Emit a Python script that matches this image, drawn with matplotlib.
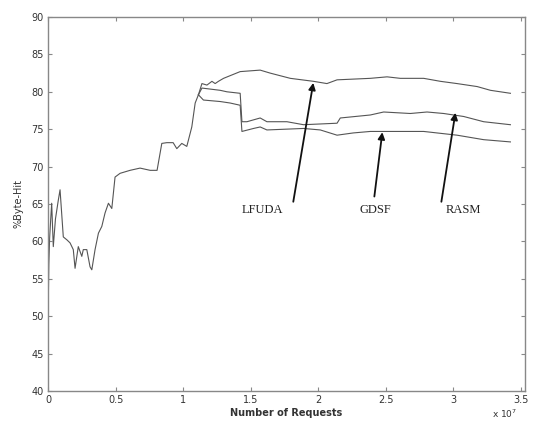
import matplotlib
matplotlib.use("Agg")
import matplotlib.pyplot as plt

# x in units of 1e7 requests, y = %Byte-Hit
common_x = [0.0, 0.002, 0.006, 0.012, 0.02, 0.027, 0.039, 0.055, 0.076, 0.089, 0.113, 0.14, 0.163, 0.187,
            0.2, 0.224, 0.25, 0.261, 0.287, 0.311, 0.324, 0.348, 0.373, 0.398, 0.422, 0.447,
            0.472, 0.496, 0.533, 0.607, 0.681, 0.756, 0.807, 0.842, 0.879, 0.926, 0.953,
            0.99, 1.027, 1.064, 1.089, 1.113]
common_y = [46.0, 52.0, 57.0, 60.5, 63.0, 65.1, 59.3, 63.0, 65.5, 66.9, 60.6, 60.2, 59.8, 58.9,
            56.4, 59.3, 58.0, 58.9, 58.9, 56.6, 56.2, 58.9, 61.1, 62.0, 63.8, 65.1,
            64.4, 68.6, 69.1, 69.5, 69.8, 69.5, 69.5, 73.1, 73.2, 73.2, 72.4,
            73.1, 72.7, 75.3, 78.5, 79.6]

lfuda_x = [1.139, 1.176, 1.213, 1.237, 1.261, 1.299, 1.422, 1.570, 1.644, 1.793, 1.965, 2.064,
           2.139, 2.385, 2.509, 2.607, 2.780, 2.904, 3.027, 3.176, 3.274, 3.422]
lfuda_y = [81.1, 80.9, 81.4, 81.1, 81.4, 81.8, 82.7, 82.9, 82.5, 81.8, 81.4, 81.1,
           81.6, 81.8, 82.0, 81.8, 81.8, 81.4, 81.1, 80.7, 80.2, 79.8]

rasm_x = [1.139, 1.274, 1.324, 1.422, 1.435, 1.472, 1.570, 1.620, 1.768, 1.891, 2.139, 2.163,
          2.385, 2.484, 2.681, 2.805, 2.928, 3.076, 3.224, 3.422]
rasm_y = [80.5, 80.2, 80.0, 79.8, 76.0, 76.0, 76.5, 76.0, 76.0, 75.6, 75.8, 76.5,
          76.9, 77.3, 77.1, 77.3, 77.1, 76.7, 76.0, 75.6]

gdsf_x = [1.150, 1.274, 1.348, 1.422, 1.435, 1.521, 1.570, 1.620, 1.891, 2.015, 2.139, 2.259,
          2.385, 2.780, 3.027, 3.224, 3.422]
gdsf_y = [78.9, 78.7, 78.5, 78.2, 74.7, 75.1, 75.3, 74.9, 75.1, 74.9, 74.2, 74.5,
          74.7, 74.7, 74.2, 73.6, 73.3]

x_ticks = [0, 0.5, 1, 1.5, 2, 2.5, 3, 3.5]
x_tick_labels = ["0", "0.5", "1", "1.5", "2", "2.5", "3", "3.5"]
y_ticks = [40, 45, 50, 55, 60, 65, 70, 75, 80, 85, 90]

fig = plt.figure(figsize=(5.36, 4.21), dpi=100)
ax = fig.add_axes([0.0896, 0.0713, 0.8899, 0.8883])

lc = "#555555"
lw = 0.8
ax.plot(common_x, common_y, color=lc, lw=lw)
ax.plot([common_x[-1]] + lfuda_x, [common_y[-1]] + lfuda_y, color=lc, lw=lw)
ax.plot([common_x[-1]] + rasm_x, [common_y[-1]] + rasm_y, color=lc, lw=lw)
ax.plot([common_x[-1]] + gdsf_x, [common_y[-1]] + gdsf_y, color=lc, lw=lw)

ax.set_xlim(0, 3.53)
ax.set_ylim(40, 90)
ax.set_xticks(x_ticks)
ax.set_xticklabels(x_tick_labels)
ax.set_yticks(y_ticks)
ax.tick_params(direction="in", top=True, right=True, labelsize=7, length=3,
               color="#888888", labelcolor="#333333", pad=3)
for s in ax.spines.values():
    s.set_color("#888888")
    s.set_linewidth(1.0)

ax.set_xlabel("Number of Requests", fontsize=7, fontweight="bold", color="#333333", labelpad=2)
ax.set_ylabel("%Byte-Hit", fontsize=7, color="#333333", labelpad=6)
ax.text(0.958, -0.06, "x 10$^7$", transform=ax.transAxes, ha="center", va="center",
        fontsize=6.5, color="#333333")

labels = [("LFUDA", 1.585, 64.2, 1.815, 65.3, 1.963, 81.2),
          ("GDSF", 2.422, 64.2, 2.415, 66.0, 2.474, 74.6),
          ("RASM", 3.074, 64.2, 2.911, 65.3, 3.015, 77.2)]
for name, tx, ty, ax0, ay0, ax1, ay1 in labels:
    ax.text(tx, ty, name, ha="center", va="center", fontsize=9,
            family="Liberation Serif", color="#222222")
    ax.annotate("", xy=(ax1, ay1), xytext=(ax0, ay0),
                arrowprops=dict(arrowstyle="-|>", color="#111111", lw=1.3,
                                mutation_scale=10, shrinkA=0, shrinkB=0))

fig.savefig("out.png", dpi=100)
